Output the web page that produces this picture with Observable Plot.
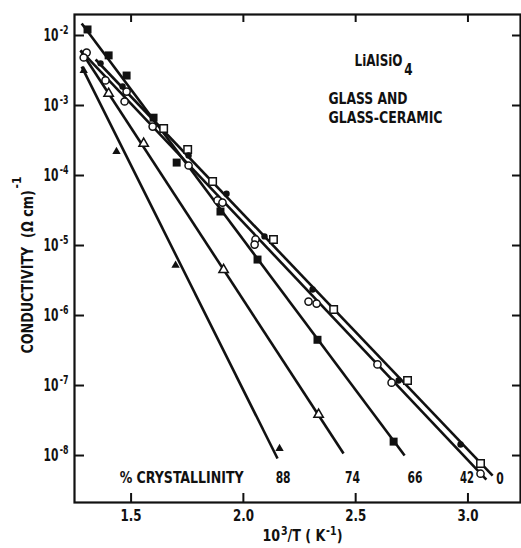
<!DOCTYPE html>
<html><head><meta charset="utf-8">
<script src="https://cdn.jsdelivr.net/npm/d3@7"></script>
<script src="https://cdn.jsdelivr.net/npm/@observablehq/plot@0.6"></script>
<style>
html,body{margin:0;padding:0;background:#fff;}
</style></head><body><div id="chart"></div>
<script>
// ---- data ----
const xTicks = [1.5, 2.0, 2.5, 3.0];
const yTicks = [1e-2, 1e-3, 1e-4, 1e-5, 1e-6, 1e-7, 1e-8];
const yTickLabels = ["10^{-2}", "10^{-3}", "10^{-4}", "10^{-5}", "10^{-6}", "10^{-7}", "10^{-8}"];

// fitted straight lines, one per % crystallinity
const lineNames = ["0", "42", "66", "74", "88"];
const lineX1 = [1.342, 1.275, 1.280, 1.275, 1.280];
const lineY1 = [4.54e-3, 6.11e-3, 1.48e-2, 6.11e-3, 3.6e-3];
const lineX2 = [3.110, 3.082, 2.718, 2.446, 2.152];
const lineY2 = [5.18e-9, 4.54e-9, 1.0e-8, 1.07e-8, 9.06e-9];

// crystallinity labels at the bottom of each line
const labelText = ["0", "42", "66", "74", "88"];
const labelX = [3.143, 2.996, 2.764, 2.486, 2.177];
const labelY = [4.6e-9, 4.85e-9, 4.85e-9, 4.85e-9, 4.85e-9];

// markers
const glassFilledCircleX = [1.364, 1.462, 1.756, 1.925, 2.094, 2.308, 2.691, 2.967];
const glassFilledCircleY = [4.0e-3, 1.87e-3, 1.93e-4, 5.5e-5, 1.35e-5, 2.35e-6, 1.18e-7, 1.44e-8];
const glassOpenSquareX = [1.645, 1.752, 1.863, 2.134, 2.402, 2.731, 3.056];
const glassOpenSquareY = [4.69e-4, 2.35e-4, 8.2e-5, 1.22e-5, 1.22e-6, 1.18e-7, 7.7e-9];
const c42OpenCircleX = [1.302, 1.289, 1.386, 1.480, 1.471, 1.596, 1.756, 1.885, 1.907, 2.054, 2.050, 2.290, 2.326, 2.597, 2.660, 3.056];
const c42OpenCircleY = [5.7e-3, 4.85e-3, 2.28e-3, 1.58e-3, 1.14e-3, 5.0e-4, 1.39e-4, 4.4e-5, 4.1e-5, 1.22e-5, 1.03e-5, 1.58e-6, 1.48e-6, 2.0e-7, 1.1e-7, 5.5e-9];
const c66FilledSquareX = [1.306, 1.400, 1.480, 1.600, 1.703, 1.898, 2.063, 2.330, 2.669];
const c66FilledSquareY = [1.22e-2, 5.2e-3, 2.68e-3, 6.7e-4, 1.53e-4, 3.06e-5, 6.3e-6, 4.5e-7, 1.58e-8];
const c74OpenTriangleX = [1.400, 1.556, 1.912, 2.335];
const c74OpenTriangleY = [1.48e-3, 2.86e-4, 4.5e-6, 3.85e-8];
const c88FilledTriangleX = [1.289, 1.435, 1.698, 2.161];
const c88FilledTriangleY = [3.16e-3, 2.2e-4, 5.2e-6, 1.26e-8];

// ---- build tables ----
const zip = (xs, ys) => xs.map((x, i) => ({x, y: ys[i]}));
const lines = lineNames.map((n, i) => ({n, x1: lineX1[i], y1: lineY1[i], x2: lineX2[i], y2: lineY2[i]}));
const labels = labelText.map((t, i) => ({t, x: labelX[i], y: labelY[i]}));
const yLab = yTicks.map((v, i) => ({v, t: yTickLabels[i]}));

const FONT = "'Liberation Sans Narrow','DejaVu Sans Condensed','DejaVu Sans',sans-serif";
const INK = "#111";
const W = "bold";

const plot = Plot.plot({
  width: 521, height: 548,
  marginLeft: 74, marginTop: 14, marginRight: 1, marginBottom: 46,
  x: {domain: [1.248, 3.234]},
  y: {type: "log", domain: [10 ** -8.671, 10 ** -1.7]},
  style: {fontFamily: FONT, background: "white", color: INK},
  marks: [
    Plot.frame({stroke: INK, strokeWidth: 2.2}),
    // tick marks pointing inward
    Plot.axisX({anchor: "bottom", ticks: xTicks, tickSize: -9, strokeWidth: 2, text: null, label: null}),
    Plot.axisX({anchor: "top", ticks: xTicks, tickSize: -7, strokeWidth: 2, text: null, label: null}),
    Plot.axisY({anchor: "left", ticks: yTicks, tickSize: -10, strokeWidth: 2, text: null, label: null}),
    Plot.axisY({anchor: "right", ticks: yTicks, tickSize: -9, strokeWidth: 2, text: null, label: null}),
    // x tick labels
    Plot.axisX({anchor: "bottom", ticks: xTicks, tickSize: 0, tickPadding: 8, tickFormat: d3.format(".1f"), fontSize: 15, fontWeight: W, label: null}),
    // y tick labels 10^n
    Plot.text(yLab, {y: "v", frameAnchor: "left", dx: -6, text: "t", textAnchor: "end", fontSize: 17, fontWeight: W}),
    // fitted lines
    Plot.link(lines, {x1: "x1", y1: "y1", x2: "x2", y2: "y2", stroke: INK, strokeWidth: 2.6}),
    // markers
    Plot.dot(zip(c88FilledTriangleX, c88FilledTriangleY), {x: "x", y: "y", symbol: "triangle", r: 3.1, fill: INK, stroke: "none"}),
    Plot.dot(zip(c74OpenTriangleX, c74OpenTriangleY), {x: "x", y: "y", symbol: "triangle", r: 3.5, fill: "white", stroke: INK, strokeWidth: 1.5}),
    Plot.dot(zip(c66FilledSquareX, c66FilledSquareY), {x: "x", y: "y", symbol: "square", r: 4.5, fill: INK, stroke: "none"}),
    Plot.dot(zip(c42OpenCircleX, c42OpenCircleY), {x: "x", y: "y", symbol: "circle", r: 3.6, fill: "white", stroke: INK, strokeWidth: 1.5}),
    Plot.dot(zip(glassOpenSquareX, glassOpenSquareY), {x: "x", y: "y", symbol: "square", r: 4.2, fill: "white", stroke: INK, strokeWidth: 1.5}),
    Plot.dot(zip(glassFilledCircleX, glassFilledCircleY), {x: "x", y: "y", symbol: "circle", r: 3.2, fill: INK, stroke: "none"}),
    // crystallinity labels
    Plot.text(labels, {x: "x", y: "y", text: "t", fontSize: 16.5, fontWeight: W, fill: INK}),
    Plot.text(["% CRYSTALLINITY"], {x: 1.449, y: 4.85e-9, text: d => d, textAnchor: "start", fontSize: 16.5, fontWeight: W, fill: INK}),
    // annotation
    Plot.text(["LiAlSiO_{4}"], {x: 2.495, y: 4.4e-3, text: d => d, textAnchor: "start", fontSize: 16, fontWeight: W, fill: INK}),
    Plot.text(["GLASS AND"], {x: 2.379, y: 1.24e-3, text: d => d, textAnchor: "start", fontSize: 16, fontWeight: W, fill: INK}),
    Plot.text(["GLASS-CERAMIC"], {x: 2.379, y: 6.63e-4, text: d => d, textAnchor: "start", fontSize: 16, fontWeight: W, fill: INK}),
    // axis titles
    Plot.text(["10^{3}/T ( K^{-1})"], {x: 2.085, frameAnchor: "bottom", dy: 38, text: d => d, textAnchor: "start", fontSize: 16, fontWeight: W, fill: INK}),
    Plot.text(["CONDUCTIVITY  (Ω cm)^{-1}"], {y: 2.86e-7, frameAnchor: "left", dx: -46.5, rotate: -90, text: d => d, textAnchor: "start", fontSize: 15.5, fontWeight: W, fill: INK})
  ]
});

document.getElementById("chart").appendChild(plot);

// superscripts / subscripts and condensed widths seen in the reference
const NS = "http://www.w3.org/2000/svg";
const widths = {
  "1.5": 21, "2.0": 21, "2.5": 21, "3.0": 21,
  "0": 7.5, "42": 14, "66": 15, "74": 15, "88": 15,
  "% CRYSTALLINITY": 124, "LiAlSiO_{4}": 58,
  "GLASS AND": 79, "GLASS-CERAMIC": 114,
  "10^{3}/T ( K^{-1})": 80, "CONDUCTIVITY  (Ω cm)^{-1}": 177
};
const scripts = {
  "10^{3}/T ( K^{-1})": {size: 12, shift: 6, gap: 1},
  "CONDUCTIVITY  (Ω cm)^{-1}": {size: 13, shift: 12, gap: 2},
  "LiAlSiO_{4}": {size: 16, shift: 9, gap: 2}
};
yTickLabels.forEach(t => { widths[t] = 25; scripts[t] = {size: 12.5, shift: 7, gap: 2}; });

function applyScripts(el, {size, shift, gap}) {
  const parts = el.textContent.split(/([\^_]\{[^}]*\})/).filter(s => s.length);
  el.textContent = "";
  let offset = 0;
  for (const p of parts) {
    const ts = document.createElementNS(NS, "tspan");
    const m = /^([\^_])\{(.*)\}$/.exec(p);
    let target = 0;
    if (m) {
      ts.textContent = m[2];
      ts.setAttribute("font-size", size);
      ts.setAttribute("dx", gap);
      target = m[1] === "^" ? -shift : shift;
    } else {
      ts.textContent = p;
    }
    if (target !== offset) ts.setAttribute("dy", target - offset);
    offset = target;
    el.appendChild(ts);
  }
}

d3.select(plot).selectAll("text").each(function () {
  const t = this.textContent;
  if (scripts[t]) applyScripts(this, scripts[t]);
  if (widths[t] !== undefined) {
    this.setAttribute("textLength", widths[t]);
    this.setAttribute("lengthAdjust", "spacingAndGlyphs");
  }
});
</script>
</body></html>
